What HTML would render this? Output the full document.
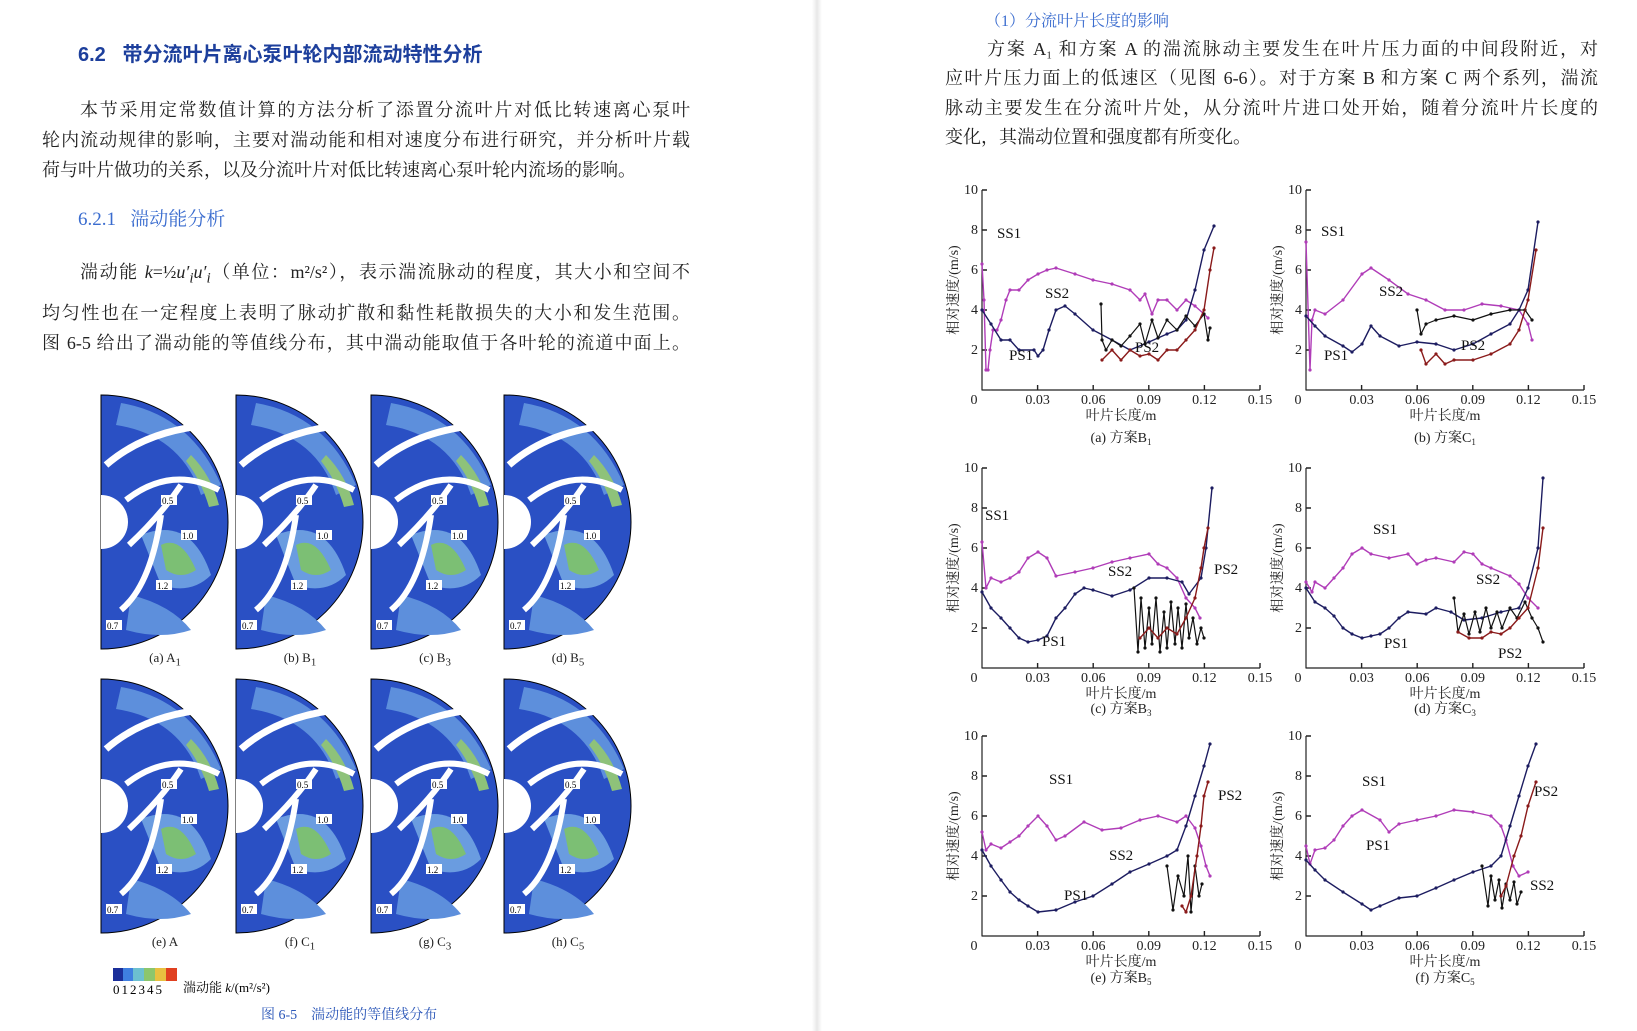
<!DOCTYPE html>
<html><head><meta charset="utf-8">
<style>
body{margin:0;width:1637px;height:1031px;background:#fff;position:relative;overflow:hidden;font-family:"Liberation Serif","Noto Serif CJK SC",serif;color:#222}
.a{position:absolute;white-space:nowrap}
.ln{position:absolute;font-size:18px;text-align:justify;text-align-last:justify;height:24px;line-height:24px}
.h{color:#1d3f9c;font-family:"Liberation Sans","Noto Sans CJK SC",sans-serif}
.cap{position:absolute;font-size:13px;width:120px;text-align:center}
svg text{font-family:"Liberation Serif","Noto Serif CJK SC",serif}
polyline{marker-mid:url(#dot);marker-start:url(#dot);marker-end:url(#dot)}
</style></head><body>
<div class="a" style="left:812px;top:0;width:10px;height:1031px;background:linear-gradient(90deg,#fff,#e8e8e8,#fff)"></div>

<div class="a h" style="left:78px;top:38px;font-size:20px;font-weight:bold">6.2&nbsp;&nbsp;&nbsp;带分流叶片离心泵叶轮内部流动特性分析</div>
<div class="ln" style="left:80px;width:610px;top:98px">本节采用定常数值计算的方法分析了添置分流叶片对低比转速离心泵叶</div>
<div class="ln" style="left:42px;width:648px;top:128px">轮内流动规律的影响，主要对湍动能和相对速度分布进行研究，并分析叶片载</div>
<div class="ln" style="left:42px;top:158px;font-size:18px;line-height:24px">荷与叶片做功的关系，以及分流叶片对低比转速离心泵叶轮内流场的影响。</div>
<div class="a h" style="left:78px;top:204px;font-size:19px;color:#3a6ccf;font-family:'Liberation Serif','Noto Serif CJK SC',serif">6.2.1&nbsp;&nbsp;&nbsp;湍动能分析</div>
<div class="ln" style="left:80px;width:610px;top:260px">湍动能 <i>k</i>=½<i>u′<sub>i</sub>u′<sub>i</sub></i>（单位：m²/s²），表示湍流脉动的程度，其大小和空间不</div>
<div class="ln" style="left:42px;width:648px;top:301px">均匀性也在一定程度上表明了脉动扩散和黏性耗散损失的大小和发生范围。</div>
<div class="ln" style="left:42px;width:648px;top:331px">图 6-5 给出了湍动能的等值线分布，其中湍动能取值于各叶轮的流道中面上。</div>

<svg class="a" style="left:0;top:0" width="816" height="1031">
<defs>
<g id="imp">
<path d="M0,0 A127,127 0 0 1 0,254 Z" fill="#2a50c4" stroke="#000" stroke-width="1"/>
<path d="M20,8 Q90,20 120,90 L100,100 Q80,40 15,30Z" fill="#5d8fdc"/>
<path d="M40,140 Q90,120 110,180 Q90,200 60,190Z" fill="#6a9ce0"/>
<path d="M60,150 Q80,140 95,175 Q80,185 65,175Z" fill="#7cbf74"/>
<path d="M30,200 Q70,210 90,235 Q60,245 25,235Z" fill="#5d8fdc"/>
<path d="M90,60 Q110,80 118,110 L108,112 Q100,85 85,66Z" fill="#8ec27a"/>
<path d="M5,70 Q45,35 110,30" stroke="#fff" stroke-width="7" fill="none"/>
<path d="M25,105 Q70,70 118,95" stroke="#fff" stroke-width="6" fill="none"/>
<path d="M28,150 Q60,120 80,90" stroke="#fff" stroke-width="6" fill="none"/>
<path d="M20,215 Q50,190 60,120" stroke="#fff" stroke-width="6" fill="none"/>
<path d="M0,100 A27,27 0 0 1 0,154 Z" fill="#fff"/>
<g font-size="9" fill="#000"><rect x="60" y="100" width="16" height="10" fill="#fff"/><text x="61" y="109">0.5</text>
<rect x="80" y="135" width="16" height="10" fill="#fff"/><text x="81" y="144">1.0</text>
<rect x="55" y="185" width="16" height="10" fill="#fff"/><text x="56" y="194">1.2</text>
<rect x="5" y="225" width="16" height="10" fill="#fff"/><text x="6" y="234">0.7</text></g>
</g></defs>
<use href="#imp" x="101" y="395"/><use href="#imp" x="236" y="395"/><use href="#imp" x="371" y="395"/><use href="#imp" x="504" y="395"/>
<use href="#imp" x="101" y="679"/><use href="#imp" x="236" y="679"/><use href="#imp" x="371" y="679"/><use href="#imp" x="504" y="679"/>
<g><rect x="113" y="968" width="10" height="13" fill="#1b2f9a"/><rect x="123" y="968" width="10" height="13" fill="#3f7fe0"/><rect x="133" y="968" width="11" height="13" fill="#6cc0d0"/><rect x="144" y="968" width="11" height="13" fill="#8cc66c"/><rect x="155" y="968" width="11" height="13" fill="#e8c040"/><rect x="166" y="968" width="11" height="13" fill="#e04020"/></g>
<text x="113" y="994" font-size="13" letter-spacing="2">012345</text>
<text x="183" y="992" font-size="13">湍动能 <tspan font-style="italic">k</tspan>/(m²/s²)</text>
<text x="261" y="1019" font-size="14" fill="#2a56b8" font-family="Liberation Sans,Noto Sans CJK SC,sans-serif">图 6-5　湍动能的等值线分布</text>
</svg>
<div class="cap" style="left:105px;top:650px">(a) A<sub>1</sub></div>
<div class="cap" style="left:240px;top:650px">(b) B<sub>1</sub></div>
<div class="cap" style="left:375px;top:650px">(c) B<sub>3</sub></div>
<div class="cap" style="left:508px;top:650px">(d) B<sub>5</sub></div>
<div class="cap" style="left:105px;top:934px">(e) A</div>
<div class="cap" style="left:240px;top:934px">(f) C<sub>1</sub></div>
<div class="cap" style="left:375px;top:934px">(g) C<sub>3</sub></div>
<div class="cap" style="left:508px;top:934px">(h) C<sub>5</sub></div>

<div class="a" style="left:985px;top:8px;font-size:16px;color:#3a6ccf">（1）分流叶片长度的影响</div>
<div class="ln" style="left:987px;width:611px;top:37px">方案 A₁ 和方案 A 的湍流脉动主要发生在叶片压力面的中间段附近，对</div>
<div class="ln" style="left:945px;width:653px;top:66px">应叶片压力面上的低速区（见图 6-6）。对于方案 B 和方案 C 两个系列，湍流</div>
<div class="ln" style="left:945px;width:653px;top:96px">脉动主要发生在分流叶片处，从分流叶片进口处开始，随着分流叶片长度的</div>
<div class="ln" style="left:945px;top:125px">变化，其湍动位置和强度都有所变化。</div>

<svg class="a" style="left:0;top:0" width="1637" height="1031">
<defs>
<marker id="dot" markerUnits="userSpaceOnUse" markerWidth="4" markerHeight="4" refX="2" refY="2"><circle cx="2" cy="2" r="1.6" fill="context-stroke"/></marker>
<g id="ax" font-size="14" fill="#222">
<path d="M70,20 V220 H348" stroke="#222" fill="none" stroke-width="1.2"/>
<path d="M70,20h5M70,60h5M70,100h5M70,140h5M70,180h5M125.6,220v-5M181.2,220v-5M236.8,220v-5M292.4,220v-5M348,220v-5" stroke="#222"/>
<g text-anchor="end"><text x="66" y="24">10</text><text x="66" y="64">8</text><text x="66" y="104">6</text><text x="66" y="144">4</text><text x="66" y="184">2</text></g>
<g text-anchor="middle"><text x="62" y="234">0</text><text x="125.6" y="234">0.03</text><text x="181.2" y="234">0.06</text><text x="236.8" y="234">0.09</text><text x="292.4" y="234">0.12</text><text x="348" y="234">0.15</text>
<text x="209" y="250">叶片长度/m</text></g>
<text transform="translate(46,120) rotate(-90)" text-anchor="middle">相对速度/(m/s)</text>
</g></defs>
<g fill="none" stroke-width="1.4" stroke-linejoin="round">
<!-- a -->
<g transform="translate(912,170)"><use href="#ax"/><g fill="none">
<polyline stroke="#b03cb8" points="70,94 72,130 74,200 76,200 78,180 81,160 85,160 89,150 94,130 98,120 107,120 116,110 126,104 135,100 144,98 163,104 181,110 200,114 218,120 228,130 233,124 240,144 246,130 255,130 265,140 274,130 283,136 292,144 296,148"/>
<polyline stroke="#1c1c60" points="70,140 79,154 89,170 98,170 107,180 122,180 126,186 131,180 137,160 144,140 153,136 163,144 181,160 200,170 218,180 237,172 255,164 265,160 274,150 283,120 292,80 302,56"/>
<polyline stroke="#111" stroke-width="1.2" points="189,134 190,170 194,180 200,170 209,176 218,166 228,154 233,174 240,150 246,168 255,150 265,160 274,146 283,156 292,144 296,170 298,158"/>
<polyline stroke="#8a1a1a" points="190,190 200,180 209,190 218,180 228,186 237,184 246,190 255,180 265,180 274,170 283,160 292,140 298,100 302,78"/>
</g><g font-size="15" fill="#111"><text x="85" y="68">SS1</text><text x="97" y="190">PS1</text><text x="133" y="128">SS2</text><text x="223" y="182">PS2</text></g></g>
<!-- b -->
<g transform="translate(1236,170)"><use href="#ax"/><g fill="none">
<polyline stroke="#b03cb8" points="70,72 74,200 76,150 79,140 89,144 107,130 126,104 135,98 153,110 172,124 190,130 209,140 228,140 246,134 265,136 283,140 292,154 296,170"/>
<polyline stroke="#1c1c60" points="70,146 79,156 89,166 107,176 116,182 126,174 135,156 144,166 163,176 181,172 200,174 218,180 237,174 255,164 274,154 283,140 292,120 302,52"/>
<polyline stroke="#111" stroke-width="1.2" points="181,140 185,164 190,154 200,150 218,146 237,150 255,144 274,140 289,140 296,150"/>
<polyline stroke="#8a1a1a" points="185,180 190,194 200,184 209,194 218,190 237,190 255,184 274,174 283,160 292,130 300,80"/>
</g><g font-size="15" fill="#111"><text x="85" y="66">SS1</text><text x="88" y="190">PS1</text><text x="143" y="126">SS2</text><text x="225" y="180">PS2</text></g></g>
<!-- c -->
<g transform="translate(912,448)"><use href="#ax"/><g fill="none">
<polyline stroke="#b03cb8" points="70,94 74,140 79,130 89,134 98,130 107,124 116,110 126,104 135,110 144,128 163,124 181,120 200,114 218,110 237,106 246,116 255,120 265,130 274,150 283,160 288,170"/>
<polyline stroke="#1c1c60" points="70,144 79,160 89,170 98,180 107,190 116,194 126,192 135,188 144,170 153,160 163,146 172,140 181,142 200,148 218,142 237,130 255,130 270,134 277,146 289,130 294,100 300,40"/>
<polyline stroke="#111" stroke-width="1.2" points="222,140 226,204 229,150 233,200 237,160 240,196 244,150 248,204 252,164 255,200 259,154 263,196 266,160 270,200 274,156 277,190 281,170 285,196 289,180 292,190"/>
<polyline stroke="#8a1a1a" points="228,190 237,180 246,190 255,180 265,186 274,170 283,150 289,120 292,100 296,80"/>
</g><g font-size="15" fill="#111"><text x="73" y="72">SS1</text><text x="130" y="198">PS1</text><text x="196" y="128">SS2</text><text x="302" y="126">PS2</text></g></g>
<!-- d -->
<g transform="translate(1236,448)"><use href="#ax"/><g fill="none">
<polyline stroke="#b03cb8" points="70,134 76,144 79,134 89,140 98,130 107,120 116,106 126,100 135,106 153,110 172,106 181,116 190,112 200,110 218,114 228,104 237,106 246,116 255,120 274,128 283,136 292,150 302,160"/>
<polyline stroke="#1c1c60" points="70,140 79,154 89,160 98,168 107,180 116,186 126,190 135,188 144,186 153,180 163,170 172,164 190,166 200,160 215,164 228,172 246,170 265,164 283,160 292,140 302,100 307,30"/>
<polyline stroke="#111" stroke-width="1.2" points="218,150 222,184 228,166 233,186 239,164 244,184 250,160 255,180 261,164 266,180 274,160 281,170 289,154 296,170 302,180 307,194"/>
<polyline stroke="#8a1a1a" points="222,184 233,190 246,190 255,184 265,186 274,180 283,170 292,160 302,120 307,80"/>
</g><g font-size="15" fill="#111"><text x="137" y="86">SS1</text><text x="148" y="200">PS1</text><text x="240" y="136">SS2</text><text x="262" y="210">PS2</text></g></g>
<!-- e -->
<g transform="translate(912,716)"><use href="#ax"/><g fill="none">
<polyline stroke="#b03cb8" points="70,116 74,134 79,128 89,132 98,126 107,120 116,110 126,100 135,110 144,124 153,120 172,106 190,114 209,112 228,104 246,100 265,106 274,100 283,112 289,130 294,150 298,160"/>
<polyline stroke="#1c1c60" points="70,134 79,150 89,164 98,176 107,184 116,190 126,196 144,194 163,186 181,180 200,168 218,156 237,148 255,140 265,134 274,110 283,80 292,50 298,28"/>
<polyline stroke="#111" stroke-width="1.2" points="255,150 261,194 266,160 272,180 276,140 279,196 283,150 287,180 290,168"/>
<polyline stroke="#8a1a1a" points="270,190 274,196 279,180 285,140 289,110 292,80 296,66"/>
</g><g font-size="15" fill="#111"><text x="137" y="68">SS1</text><text x="152" y="184">PS1</text><text x="197" y="144">SS2</text><text x="306" y="84">PS2</text></g></g>
<!-- f -->
<g transform="translate(1236,716)"><use href="#ax"/><g fill="none">
<polyline stroke="#b03cb8" points="70,130 74,148 79,134 89,132 98,124 107,110 116,100 126,94 144,104 153,116 163,108 181,104 200,100 218,94 237,96 255,100 265,110 270,124 277,150 283,160 292,156"/>
<polyline stroke="#1c1c60" points="70,144 79,154 89,164 107,176 126,188 135,194 144,190 163,182 181,180 200,172 218,164 237,156 255,150 265,140 274,110 283,80 292,50 300,28"/>
<polyline stroke="#111" stroke-width="1.2" points="246,150 252,190 255,160 259,184 263,164 266,192 270,168 274,184 278,166 281,188 285,176"/>
<polyline stroke="#8a1a1a" points="265,180 270,170 278,140 285,120 292,90 300,66"/>
</g><g font-size="15" fill="#111"><text x="126" y="70">SS1</text><text x="130" y="134">PS1</text><text x="294" y="174">SS2</text><text x="298" y="80">PS2</text></g></g>
</g>
<g font-size="14" fill="#222" text-anchor="middle">
<text x="1121" y="442">(a) 方案B<tspan font-size="9" dy="3">1</tspan></text>
<text x="1445" y="442">(b) 方案C<tspan font-size="9" dy="3">1</tspan></text>
<text x="1121" y="713">(c) 方案B<tspan font-size="9" dy="3">3</tspan></text>
<text x="1445" y="713">(d) 方案C<tspan font-size="9" dy="3">3</tspan></text>
<text x="1121" y="982">(e) 方案B<tspan font-size="9" dy="3">5</tspan></text>
<text x="1445" y="982">(f) 方案C<tspan font-size="9" dy="3">5</tspan></text>
</g>
</svg>
</body></html>
